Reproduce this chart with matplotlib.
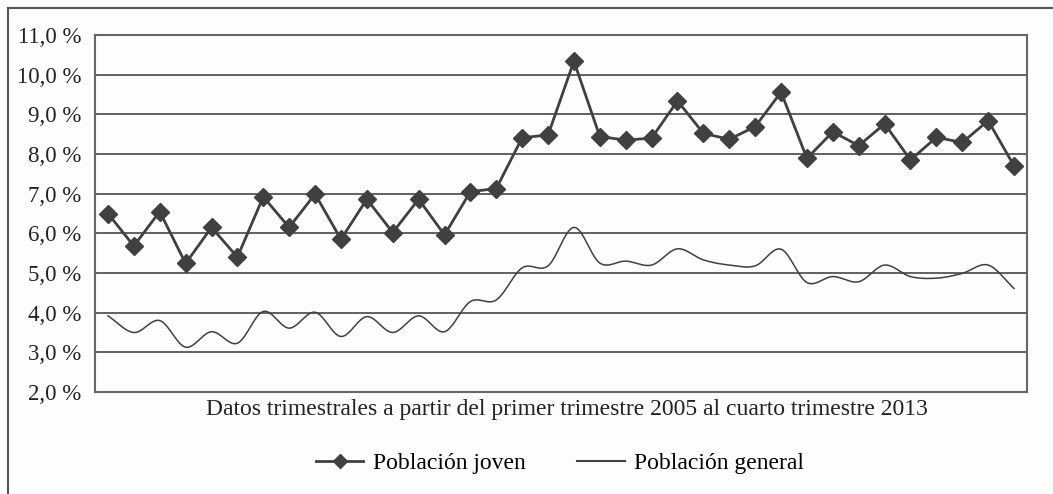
import numpy as np
import matplotlib
matplotlib.use('Agg')
import matplotlib.pyplot as plt
from matplotlib.lines import Line2D

# quarterly data, 2005Q1 .. 2013Q4
quarters = [f'{y}T{q}' for y in range(2005, 2014) for q in range(1, 5)]
joven = [6.50, 5.68, 6.55, 5.24, 6.15, 5.40, 6.92, 6.15, 6.99, 5.85,
         6.86, 6.02, 6.86, 5.96, 7.05, 7.13, 8.41, 8.48, 10.34, 8.44,
         8.35, 8.40, 9.34, 8.52, 8.37, 8.69, 9.56, 7.89, 8.56, 8.21,
         8.76, 7.85, 8.42, 8.29, 8.84, 7.70]
general = [3.92, 3.50, 3.80, 3.13, 3.52, 3.23, 4.03, 3.61, 4.01, 3.40,
           3.90, 3.50, 3.92, 3.52, 4.28, 4.32, 5.13, 5.18, 6.15, 5.25,
           5.30, 5.20, 5.61, 5.33, 5.20, 5.18, 5.60, 4.76, 4.91, 4.78,
           5.20, 4.91, 4.87, 4.99, 5.20, 4.61]
yticks = np.arange(2, 12)
ytick_labels = [f'{v},0 %' for v in yticks]

plt.rcParams['font.family'] = ['Liberation Serif', 'DejaVu Serif']
dark = '#404040'


def smooth(x, y, n=20):
    # Catmull-Rom curve through the points (like a spreadsheet "smoothed line")
    x = np.asarray(x, float)
    y = np.asarray(y, float)
    px = np.concatenate([[2 * x[0] - x[1]], x, [2 * x[-1] - x[-2]]])
    py = np.concatenate([[2 * y[0] - y[1]], y, [2 * y[-1] - y[-2]]])
    t = np.linspace(0, 1, n, endpoint=False)
    xs, ys = [], []
    for i in range(1, len(px) - 2):
        for p, out in ((px, xs), (py, ys)):
            p0, p1, p2, p3 = p[i - 1], p[i], p[i + 1], p[i + 2]
            out.extend(0.5 * ((2 * p1) + (-p0 + p2) * t
                              + (2 * p0 - 5 * p1 + 4 * p2 - p3) * t ** 2
                              + (-p0 + 3 * p1 - 3 * p2 + p3) * t ** 3))
    xs.append(x[-1])
    ys.append(y[-1])
    return np.array(xs), np.array(ys)


fig = plt.figure(figsize=(10.53, 4.94), dpi=100)
fig.patch.set_facecolor('#fdfdfd')
ax = fig.add_axes([95 / 1053, 1 - 392 / 494, 932 / 1053, 357 / 494])
ax.set_facecolor('#fdfdfd')

x = np.arange(len(quarters))
ax.plot(x, joven, color=dark, lw=2, marker='D', ms=9, zorder=3)
sx, sy = smooth(x, general)
ax.plot(sx, sy, color=dark, lw=1.1, zorder=3)

ax.set_xlim(-0.5, len(quarters) - 0.5)
ax.set_ylim(2, 11)
ax.set_yticks(yticks)
ax.set_yticklabels(ytick_labels, fontsize=16.5, color='#222222')
ax.set_xticks([])
ax.tick_params(axis='y', length=0, pad=10)
ax.grid(axis='y', color='#555555', lw=1.3)
for s in ax.spines.values():
    s.set_color('#666666')
    s.set_linewidth(1.5)

fig.text(567 / 1053, 1 - 410 / 494, 'Datos trimestrales a partir del primer trimestre 2005 al cuarto trimestre 2013',
         ha='center', va='center', fontsize=17, color='#222222')

handles = [Line2D([], [], color=dark, lw=2, marker='D', ms=7),
           Line2D([], [], color=dark, lw=1.5)]
fig.legend(handles, ['Población joven', 'Población general'], loc='center',
           bbox_to_anchor=(560 / 1053, 1 - 463 / 494), ncol=2, frameon=False,
           fontsize=17, handlelength=2.0, columnspacing=2.2, handletextpad=0.4)

# outer frame (top and left edges visible)
fig.add_artist(Line2D([8 / 1053, 1], [1 - 8 / 494, 1 - 8 / 494], color='#555555', lw=1.5))
fig.add_artist(Line2D([8 / 1053, 8 / 1053], [0, 1 - 8 / 494], color='#555555', lw=1.5))

fig.savefig('out.png', dpi=100, facecolor=fig.get_facecolor())
